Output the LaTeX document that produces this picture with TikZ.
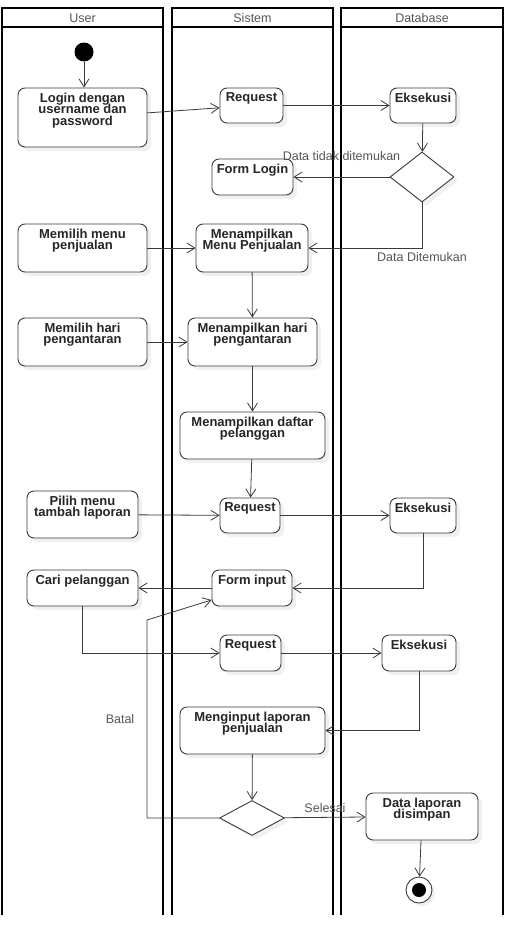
\documentclass[tikz,border=0pt]{standalone}
\usepackage{fontspec}
\setmainfont{Liberation Sans}
\usetikzlibrary{arrows.meta,shapes.geometric,shadows}

\definecolor{linegray}{HTML}{3A3A3A}
\definecolor{headgray}{HTML}{555555}

\tikzset{
  lane/.style={line width=1.6pt, black},
  lanehead/.style={text=headgray, font=\fontsize{12.5}{14}\selectfont},
  act/.style={draw=linegray, line width=0.9pt, rounded corners=7pt, fill=white,
    drop shadow={shadow xshift=4pt, shadow yshift=-4pt, opacity=0.12}},
  acttext/.style={anchor=north, align=center, inner ysep=5pt, text=black!85,
    font=\bfseries\fontsize{13}{11.5}\selectfont},
  decide/.style={diamond, draw=linegray, line width=0.9pt, fill=white, inner sep=0pt,
    drop shadow={shadow xshift=4pt, shadow yshift=-4pt, opacity=0.12}},
  flow/.style={draw=linegray, line width=0.8pt, -{Straight Barb[length=8pt,width=10pt]}},
  guard/.style={text=headgray, font=\fontsize{12.5}{14}\selectfont},
  startdot/.style={circle, fill=black, minimum size=19pt, inner sep=0pt},
  finish/.style={circle, draw=linegray, fill=white, line width=0.9pt, minimum size=26pt, inner sep=0pt,
    drop shadow={shadow xshift=3pt, shadow yshift=-3pt, opacity=0.12},
    path picture={\fill[black] (path picture bounding box.center) circle (7pt);}}
}

\begin{document}
\lineskiplimit=-10pt
\begin{tikzpicture}[x=1pt, y=-1pt]
\useasboundingbox (0,0) rectangle (507,929);

% Draw the swimlanes
\foreach \l/\r/\name in {2/163/User, 172/333/Sistem, 341/503/Database}{
  \draw[lane, line join=miter] (\l,915) -- (\l,8) -- (\r,8) -- (\r,915);
  \draw[lane] (\l,27) -- (\r,27);
  \node[lanehead] (h\name) at ({(\l+\r)/2},18) {\name};
}

% Draw the activities
\node[startdot] (start) at (84,52) {};
\node[act, minimum width=129pt, minimum height=59pt, label={[acttext]north:Login dengan\\username dan\\password}] (login) at (82.5,117.5) {};
\node[act, minimum width=63pt, minimum height=35pt, label={[acttext]north:Request}] (req1) at (251.5,105.5) {};
\node[act, minimum width=66pt, minimum height=35pt, label={[acttext]north:Eksekusi}] (eks1) at (423,105.5) {};
\node[decide, minimum width=64pt, minimum height=50pt] (dec1) at (422,177) {};
\node[act, minimum width=81pt, minimum height=36pt, label={[acttext]north:Form Login}] (formlogin) at (252.5,177) {};

\node[act, minimum width=129pt, minimum height=48pt, label={[acttext]north:Memilih menu\\penjualan}] (pilihjual) at (82.5,248) {};
\node[act, minimum width=112pt, minimum height=48pt, label={[acttext]north:Menampilkan\\Menu Penjualan}] (menujual) at (252,248) {};
\node[act, minimum width=129pt, minimum height=48pt, label={[acttext]north:Memilih hari\\pengantaran}] (pilihhari) at (82.5,342) {};
\node[act, minimum width=129pt, minimum height=48pt, label={[acttext]north:Menampilkan hari\\pengantaran}] (tampilhari) at (252.5,342) {};
\node[act, minimum width=145pt, minimum height=47pt, label={[acttext]north:Menampilkan daftar\\pelanggan}] (daftar) at (252.5,435.5) {};

\node[act, minimum width=111pt, minimum height=47pt, label={[acttext]north:Pilih menu\\tambah laporan}] (tambah) at (82.5,514.5) {};
\node[act, minimum width=60pt, minimum height=35pt, label={[acttext]north:Request}] (req2) at (250,515.5) {};
\node[act, minimum width=66pt, minimum height=35pt, label={[acttext]north:Eksekusi}] (eks2) at (423,515.5) {};
\node[act, minimum width=111pt, minimum height=36pt, label={[acttext]north:Cari pelanggan}] (cari) at (82.5,588) {};
\node[act, minimum width=80pt, minimum height=36pt, label={[acttext]north:Form input}] (forminput) at (252,588) {};
\node[act, minimum width=61pt, minimum height=36pt, label={[acttext]north:Request}] (req3) at (250.5,653) {};
\node[act, minimum width=74pt, minimum height=36pt, label={[acttext]north:Eksekusi}] (eks3) at (419,653) {};
\node[act, minimum width=145pt, minimum height=47pt, label={[acttext]north:Menginput laporan\\penjualan}] (menginput) at (252.5,730.5) {};
\node[decide, minimum width=65pt, minimum height=35pt] (dec2) at (252,818) {};
\node[act, minimum width=112pt, minimum height=47pt, label={[acttext]north:Data laporan\\disimpan}] (simpan) at (422,816.5) {};
\node[finish] (finish) at (419,890) {};

% Draw the flows
\draw[flow] (start) -- (start |- login.north);
\draw[flow] (login) -- (req1);
\draw[flow] (req1) -- (eks1);
\draw[flow] (eks1) -- (dec1);
\draw[flow] (dec1) -- node[guard, above=13pt] {Data tidak ditemukan} (formlogin);
\draw[flow] (dec1) |- node[guard, below=1pt] {Data Ditemukan} (menujual);
\draw[flow] (pilihjual) -- (menujual);
\draw[flow] (menujual) -- (tampilhari);
\draw[flow] (pilihhari) -- (tampilhari);
\draw[flow] (tampilhari) -- (daftar);
\draw[flow] (daftar) -- (req2);
\draw[flow] (tambah) -- (req2);
\draw[flow] (req2) -- (eks2);
\draw[flow] (eks2) |- (forminput);
\draw[flow] (forminput) -- (cari);
\draw[flow] (cari) |- (req3);
\draw[flow] (req3) -- (eks3);
\draw[flow] (eks3) |- (menginput);
\draw[flow] (menginput) -- (dec2);
\draw[flow] (dec2) -- node[guard, above=1pt] {Selesai} (simpan);
\draw[flow] (simpan) -- (finish);

% Batal loop back to the form
\coordinate (batalA) at (147,818);
\coordinate (batalB) at (147,620);
\draw[flow] (dec2.west) -- (batalA) -- node[guard, left=9pt] {Batal} (batalB) -- ([yshift=-12pt]forminput.west);
\end{tikzpicture}
\end{document}
